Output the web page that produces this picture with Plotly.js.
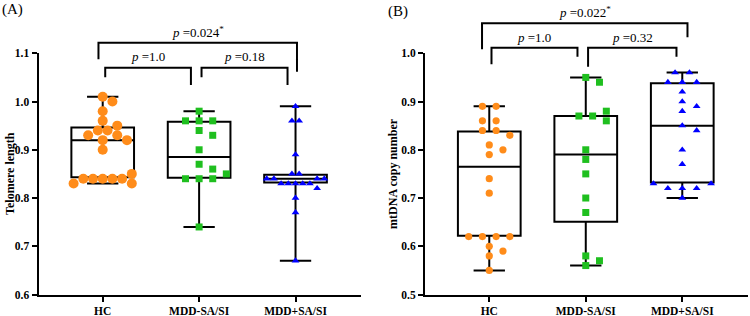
<!DOCTYPE html>
<html><head><meta charset="utf-8">
<script src="https://cdn.plot.ly/plotly-3.0.1.min.js"></script>
<style>html,body{margin:0;padding:0;background:#fff}#chart{width:750px;height:316px}</style>
</head><body><div id="chart"></div>
<script>
// ---------- data ----------
const categories = ['HC', 'MDD-SA/SI', 'MDD+SA/SI'];

// Panel A: telomere length
const telomereHC     = [1.01, 1.00, 0.98, 0.96, 0.95, 0.94, 0.94, 0.93, 0.93, 0.92, 0.92, 0.90, 0.85, 0.84, 0.84, 0.84, 0.84, 0.84, 0.83, 0.83];
const telomereNoSASI = [0.98, 0.96, 0.96, 0.96, 0.94, 0.93, 0.90, 0.87, 0.86, 0.85, 0.84, 0.84, 0.84, 0.74];
const telomereSASI   = [0.99, 0.96, 0.96, 0.89, 0.85, 0.85, 0.84, 0.84, 0.84, 0.84, 0.83, 0.83, 0.83, 0.83, 0.83, 0.82, 0.80, 0.77, 0.67];
const telomereQ1     = [0.843, 0.842, 0.832];
const telomereMedian = [0.920, 0.885, 0.840];
const telomereQ3     = [0.946, 0.958, 0.848];
const telomereMin    = [0.83, 0.74, 0.67];
const telomereMax    = [1.01, 0.98, 0.99];
const telomereP      = ['1.0', '0.18', '0.024'];
const telomereStar   = [false, false, true];

// Panel B: mtDNA copy number
const mtdnaHC     = [0.89, 0.89, 0.86, 0.86, 0.84, 0.84, 0.83, 0.81, 0.80, 0.79, 0.74, 0.71, 0.62, 0.62, 0.62, 0.62, 0.60, 0.59, 0.58, 0.55];
const mtdnaNoSASI = [0.95, 0.94, 0.88, 0.87, 0.87, 0.86, 0.80, 0.78, 0.75, 0.70, 0.67, 0.58, 0.57, 0.56];
const mtdnaSASI   = [0.96, 0.96, 0.94, 0.94, 0.94, 0.92, 0.90, 0.89, 0.88, 0.85, 0.84, 0.80, 0.77, 0.73, 0.73, 0.72, 0.72, 0.72, 0.70];
const mtdnaQ1     = [0.622, 0.651, 0.732];
const mtdnaMedian = [0.765, 0.790, 0.850];
const mtdnaQ3     = [0.838, 0.870, 0.938];
const mtdnaMin    = [0.55, 0.56, 0.70];
const mtdnaMax    = [0.89, 0.95, 0.96];
const mtdnaP      = ['1.0', '0.32', '0.022'];
const mtdnaStar   = [false, false, true];

// ---------- style / geometry ----------
const W = 750, H = 316;
const FONT = 'Liberation Serif, Times New Roman, serif';
const colors = ['#FF8C1A', '#1FBF1F', '#0000FF'];
const symbols = ['circle', 'square', 'triangle-up'];
const plotTopPx = 53.3, plotBottomPx = 294.5;
const xRange = [-0.666, 2.676];
const yd = [1 - plotBottomPx / H, 1 - plotTopPx / H];

const panels = [
  { key: 'A', xa: 'x', ya: 'y', dom: [38.5, 360.7], yr: [0.6, 1.1],
    groups: [telomereHC, telomereNoSASI, telomereSASI],
    q1: telomereQ1, med: telomereMedian, q3: telomereQ3, lo: telomereMin, hi: telomereMax,
    p: telomereP, star: telomereStar,
    sizes: [10, 7, 6.8],
    swarm: [{g: 9.7, cx: 9.7}, {g: 6.8, cx: 13.6}, {g: 7.2, cx: 7.2}],
    title: 'Telomere length', titleX: 10, label: '(A)', labelX: 12, labelY: 9,
    brackets: [
      {x0: 0.026, x1: 0.915, top: 67.7, l: 77.3, r: 85, ty: 56.7},
      {x0: 1.025, x1: 1.917, top: 67.7, l: 77.3, r: 85, ty: 56.7},
      {x0: -0.044, x1: 2.015, top: 42.7, l: 59.3, r: 71.7, ty: 32.3}
    ] },
  { key: 'B', xa: 'x2', ya: 'y2', dom: [425, 747.5], yr: [0.5, 1.0],
    groups: [mtdnaHC, mtdnaNoSASI, mtdnaSASI],
    q1: mtdnaQ1, med: mtdnaMedian, q3: mtdnaQ3, lo: mtdnaMin, hi: mtdnaMax,
    p: mtdnaP, star: mtdnaStar,
    sizes: [7.2, 7, 6.8],
    swarm: [{g: 6.85, cx: 13.7}, {g: 6.85, cx: 13.7}, {g: 7.2, cx: 14.4}],
    title: 'mtDNA copy number', titleX: 393, label: '(B)', labelX: 398, labelY: 11.7,
    brackets: [
      {x0: 0.023, x1: 0.914, top: 47.7, l: 64.3, r: 56.7, ty: 37.3},
      {x0: 1.024, x1: 1.94, top: 47.7, l: 66.7, r: 56.7, ty: 37.3},
      {x0: -0.075, x1: 2.054, top: 23.3, l: 49.3, r: 37.3, ty: 12.3}
    ] }
];

// beeswarm layout (pixel space) so markers do not overlap
function swarm(values, pxY, g, cX, cY) {
  const h = g / 2;
  const byVal = {};
  values.forEach((v, i) => { const k = v.toFixed(4); (byVal[k] = byVal[k] || []).push(i); });
  const rows = Object.values(byVal).sort((a, b) => b.length - a.length || values[b[0]] - values[a[0]]);
  const placed = [];
  const off = new Array(values.length).fill(0);
  const hit = (x, y, list) => list.some(p => Math.abs(p.x - x) < cX - 0.01 && Math.abs(p.y - y) < cY);
  const cand = [0];
  for (let k = 1; k < 80; k++) cand.push(k * h, -k * h);
  for (const row of rows) {
    let pts = [];
    for (const i of row) {
      const y = values[i] * pxY;
      for (const x of cand) {
        if (!hit(x, y, placed) && !hit(x, y, pts)) { pts.push({x, y, i}); break; }
      }
    }
    const m = pts.reduce((s, p) => s + p.x, 0) / pts.length;
    const sh = pts.map(p => ({x: p.x - m, y: p.y, i: p.i}));
    if (!sh.some(p => hit(p.x, p.y, placed))) pts = sh;
    pts.forEach(p => { placed.push(p); off[p.i] = p.x; });
  }
  return off;
}

const traces = [], shapes = [], annotations = [];
const layout = {
  width: W, height: H, margin: {l: 0, r: 0, t: 0, b: 0},
  paper_bgcolor: '#fff', plot_bgcolor: '#fff', showlegend: false,
  font: {family: FONT, color: '#000'}
};
const yp = py => 1 - py / H;
const pairs = [[0, 1], [1, 2], [0, 2]];

panels.forEach((P, pi) => {
  const domPx = P.dom[1] - P.dom[0];
  const pxPerX = domPx / (xRange[1] - xRange[0]);
  const pxPerY = (plotBottomPx - plotTopPx) / (P.yr[1] - P.yr[0]);
  const idx = categories.map((c, i) => i);

  traces.push({
    type: 'box', xaxis: P.xa, yaxis: P.ya, x: idx,
    q1: P.q1, median: P.med, q3: P.q3, lowerfence: P.lo, upperfence: P.hi,
    width: 0.65, whiskerwidth: 0.5, boxpoints: false,
    line: {color: '#000', width: 2}, fillcolor: 'rgba(0,0,0,0)', hoverinfo: 'skip'
  });

  P.groups.forEach((vals, gi) => {
    const sw = P.swarm[gi];
    const off = swarm(vals, pxPerY, sw.g, sw.cx, 7);
    traces.push({
      type: 'scatter', mode: 'markers', xaxis: P.xa, yaxis: P.ya,
      x: vals.map((v, i) => gi + off[i] / pxPerX), y: vals,
      marker: {color: colors[gi], symbol: symbols[gi], size: P.sizes[gi], line: {width: 0}},
      cliponaxis: false, hoverinfo: 'skip'
    });
  });

  const sfx = pi === 0 ? '' : '2';
  const axCommon = {
    showline: true, linewidth: 2, linecolor: '#000', ticks: 'outside', ticklen: 5,
    tickwidth: 2, tickcolor: '#000', showgrid: false, zeroline: false, fixedrange: true,
    tickfont: {family: FONT, size: 11.5, color: '#000', weight: 'bold'}
  };
  layout['xaxis' + sfx] = Object.assign({}, axCommon, {
    domain: [P.dom[0] / W, P.dom[1] / W], range: xRange, anchor: P.ya,
    tickmode: 'array', tickvals: idx, ticktext: categories
  });
  layout['yaxis' + sfx] = Object.assign({}, axCommon, {
    domain: yd, range: P.yr, anchor: P.xa, tick0: P.yr[0], dtick: 0.1, tickformat: '.1f'
  });

  annotations.push({
    xref: 'paper', yref: 'paper', x: P.titleX / W, y: yp((plotTopPx + plotBottomPx) / 2),
    text: P.title, textangle: -90, showarrow: false, xanchor: 'center', yanchor: 'middle',
    font: {family: FONT, size: 12, color: '#000', weight: 'bold'}
  });
  annotations.push({
    xref: 'paper', yref: 'paper', x: P.labelX / W, y: yp(P.labelY),
    text: P.label, showarrow: false, xanchor: 'center', yanchor: 'middle',
    font: {family: FONT, size: 15, color: '#000'}
  });

  P.brackets.forEach((b, k) => {
    shapes.push({
      type: 'path', xref: P.xa, yref: 'paper',
      path: `M ${b.x0},${yp(b.l)} L ${b.x0},${yp(b.top)} L ${b.x1},${yp(b.top)} L ${b.x1},${yp(b.r)}`,
      line: {color: '#000', width: 2}
    });
    annotations.push({
      xref: P.xa, yref: 'paper', x: (b.x0 + b.x1) / 2, y: yp(b.ty),
      text: '<i>p</i> =' + P.p[k] + (P.star[k] ? '<sup>*</sup>' : ''),
      showarrow: false, xanchor: 'center', yanchor: 'middle',
      font: {family: FONT, size: 13, color: '#000'}
    });
  });
});

layout.shapes = shapes;
layout.annotations = annotations;
Plotly.newPlot('chart', traces, layout, {staticPlot: true, displayModeBar: false});
</script>
</body></html>
